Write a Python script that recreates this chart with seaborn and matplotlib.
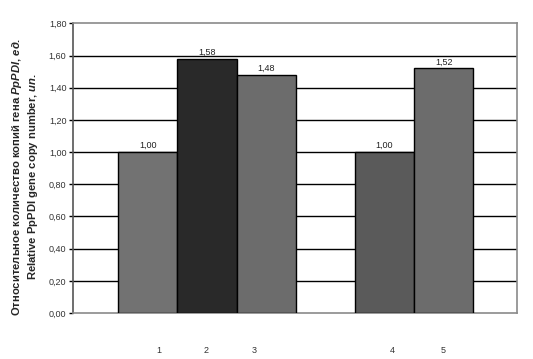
import matplotlib
matplotlib.use("Agg")
import matplotlib.pyplot as plt
import seaborn as sns
import pandas as pd

# ---- data ----
bar_labels = ["1", "2", "3", "4", "5"]
bar_positions = [1, 2, 3, 5, 6]
values = [1.00, 1.58, 1.48, 1.00, 1.52]
bar_colors = ["#727272", "#292929", "#6c6c6c", "#5a5a5a", "#6c6c6c"]
label_positions = [1.19, 1.99, 2.80, 5.13, 5.99]
y_ticks = [0.0, 0.2, 0.4, 0.6, 0.8, 1.0, 1.2, 1.4, 1.6, 1.8]

df = pd.DataFrame({"pos": bar_positions, "val": values, "lab": bar_labels})

sns.set_theme(style="white")
plt.rcParams["font.family"] = ["Liberation Sans", "DejaVu Sans"]
plt.rcParams["mathtext.fontset"] = "custom"
plt.rcParams["mathtext.rm"] = "Liberation Sans:bold"
plt.rcParams["mathtext.it"] = "Liberation Sans:italic:bold"
plt.rcParams["mathtext.bf"] = "Liberation Sans:bold"

fig = plt.figure(figsize=(5.33, 3.59), dpi=100)
ax = fig.add_axes([0.1375, 0.128, 0.970 - 0.1375, 0.935 - 0.128])

sns.barplot(data=df, x="pos", y="val", hue="lab", palette=bar_colors,
            native_scale=True, width=1.0, dodge=False, legend=False,
            edgecolor="black", linewidth=1.0, saturation=1, ax=ax, zorder=3)

ax.set_xlim(-0.258, 7.24)
ax.set_ylim(0, 1.8)
ax.set_yticks(y_ticks)
ax.set_yticklabels([f"{t:.2f}".replace(".", ",") for t in y_ticks])
ax.set_xticks(label_positions)
ax.set_xticklabels(bar_labels)

for y in y_ticks[1:-1]:
    ax.axhline(y, color="black", lw=1.0, zorder=1)

for p, v in zip(bar_positions, values):
    ax.text(p, v + 0.012, f"{v:.2f}".replace(".", ","), ha="center", va="bottom",
            fontsize=6.5, color="#222222")

for side in ["top", "right", "bottom"]:
    ax.spines[side].set_color("#8a8a8a")
    ax.spines[side].set_linewidth(1.2)
ax.spines["left"].set_color("#555555")
ax.spines["left"].set_linewidth(1.2)

ax.tick_params(axis="y", which="both", left=True, length=3, width=1, color="black",
               labelsize=6.5, labelcolor="#333333", pad=2)
ax.tick_params(axis="x", length=0, labelsize=6.5, labelcolor="#333333", pad=24)
ax.set_xlabel("")
ax.set_ylabel("")

fig.text(0.032, 0.507, r"Относительное количество копий гена $\mathit{PpPDI}$, $\mathit{ед.}$",
         rotation=90, ha="center", va="center", fontsize=8.1, fontweight="bold")
fig.text(0.062, 0.507, r"Relative PpPDI gene copy number, $\mathit{un.}$",
         rotation=90, ha="center", va="center", fontsize=8.1, fontweight="bold")

fig.savefig("out.png", dpi=100)
